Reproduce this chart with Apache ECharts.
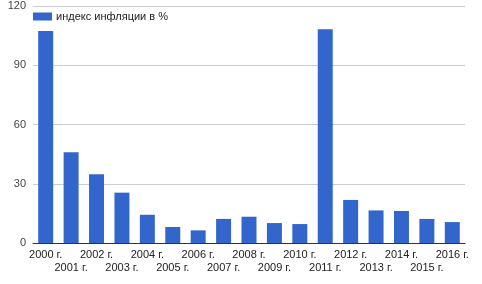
<!DOCTYPE html>
<html><head><meta charset="utf-8">
<script src="https://cdn.jsdelivr.net/npm/echarts@6/dist/echarts.min.js"></script>
<style>html,body{margin:0;padding:0;background:#fff}#c{width:482px;height:284px}</style>
</head><body><div id="c"></div>
<script>
var categories = ['2000 г.','2001 г.','2002 г.','2003 г.','2004 г.','2005 г.','2006 г.','2007 г.','2008 г.','2009 г.','2010 г.','2011 г.','2012 г.','2013 г.','2014 г.','2015 г.','2016 г.'];
var inflation = [107.3, 45.9, 34.8, 25.5, 14.3, 8.1, 6.4, 12.2, 13.3, 10.1, 9.6, 108.2, 21.8, 16.5, 16.2, 12.2, 10.6];
var seriesName = 'индекс инфляции в %';
var chart = echarts.init(document.getElementById('c'));
chart.setOption({
  animation: false,
  textStyle: {fontFamily: 'Arial, Liberation Sans, sans-serif'},
  legend: {
    left: 33, top: 11, padding: 0, itemWidth: 19, itemHeight: 8, itemGap: 6,
    icon: 'rect',
    textStyle: {fontSize: 11, color: '#222', padding: [0, 0, 0, -1]},
    data: [seriesName]
  },
  grid: {left: 33, right: 17, top: 6, bottom: 41, containLabel: false},
  xAxis: {
    type: 'category', data: categories,
    axisTick: {show: false},
    axisLine: {lineStyle: {color: '#333'}},
    axisLabel: {
      interval: 0, fontSize: 11, color: '#222', margin: 5, lineHeight: 13,
      formatter: function (v, i) { return i % 2 ? '\n' + v : v; }
    }
  },
  yAxis: {
    type: 'value', min: 0, max: 120, interval: 30,
    axisLine: {show: false}, axisTick: {show: false},
    axisLabel: {fontSize: 11, color: '#444', margin: 7},
    splitLine: {lineStyle: {color: '#ccc'}}
  },
  series: [{
    name: seriesName, type: 'bar', data: inflation,
    barWidth: '59%',
    itemStyle: {color: '#3366cc'}
  }]
});
</script></body></html>
